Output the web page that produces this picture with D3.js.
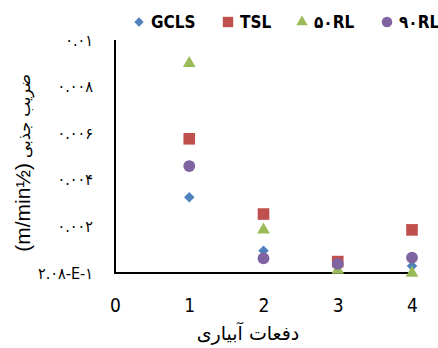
<!DOCTYPE html>
<html>
<head>
<meta charset="utf-8">
<script src="https://cdn.jsdelivr.net/npm/d3@7"></script>
<style>
  body { margin: 0; background: #fff; }
  text { font-family: "Liberation Sans Narrow", "Arial Narrow", "DejaVu Sans Condensed", sans-serif; }
</style>
</head>
<body>
<svg class="chart" width="438" height="348"></svg>
<script>
// irrigation rounds
const rounds = [1, 2, 3, 4];

// series values
const gcls = [0.00325, 0.00096, 0.0003, 0.0003];
const tsl = [0.00576, 0.00253, 0.00049, 0.00185];
const rl50 = [0.0090, 0.00185, 0.00013, 0.0];
const rl90 = [0.00459, 0.00063, 0.00039, 0.00066];

const seriesNames = ["GCLS", "TSL", "۵۰RL", "۹۰RL"];
const seriesColors = ["#4F81BD", "#C0504D", "#9BBB59", "#8064A2"];
const seriesSymbols = [d3.symbolDiamond2, d3.symbolSquare, d3.symbolTriangle, d3.symbolCircle];

const xTicks = [0, 1, 2, 3, 4];
const yTicks = [0, 0.002, 0.004, 0.006, 0.008, 0.01];
const yTickLabels = ["۲.۰۸-E-۱", "۰.۰۰۲", "۰.۰۰۴", "۰.۰۰۶", "۰.۰۰۸", "۰.۰۱"];

const xTitle = "دفعات آبیاری";
const yTitleUnit = "(m/min½)";
const yTitleText = "ضریب جذبی";

const plotLeft = 115, plotRight = 412, plotTop = 40, plotBottom = 273;

var svg = d3.select(".chart");

const xScale = d3.scaleLinear().domain([0, 4]).range([plotLeft, plotRight]);
const yScale = d3.scaleLinear().domain([0, 0.01]).range([plotBottom, plotTop]);

// y axis labels (no tick marks)
svg.append("g")
  .attr("transform", `translate(${plotLeft}, 0)`)
  .call(d3.axisLeft(yScale).tickValues(yTicks).tickSize(0).tickPadding(22)
    .tickFormat((d, i) => yTickLabels[i]))
  .call(g => g.select(".domain").remove())
  .selectAll("text")
  .style("font-family", "'DejaVu Sans Condensed', 'DejaVu Sans', sans-serif")
  .style("font-size", "16px")
  .attr("fill", "#000");

// x axis labels
svg.append("g")
  .attr("transform", `translate(0, ${plotBottom})`)
  .call(d3.axisBottom(xScale).tickValues(xTicks).tickSize(0).tickPadding(26)
    .tickFormat(d3.format("d")))
  .call(g => g.select(".domain").remove())
  .selectAll("text")
  .style("font-size", "19px")
  .attr("fill", "#000");

// axis lines
svg.append("line")
  .attr("x1", plotLeft).attr("x2", plotLeft)
  .attr("y1", plotTop).attr("y2", plotBottom)
  .attr("stroke", "#000").attr("stroke-width", 2);
svg.append("line")
  .attr("x1", plotLeft - 1).attr("x2", xScale(3.96))
  .attr("y1", plotBottom).attr("y2", plotBottom)
  .attr("stroke", "#000").attr("stroke-width", 2);

// points
const allSeries = [gcls, tsl, rl50, rl90];
const sizes = [70, 135, 70, 110];
allSeries.forEach((vals, k) => {
  svg.append("g")
    .selectAll("path")
    .data(vals)
    .enter()
    .append("path")
    .attr("transform", (d, i) => `translate(${xScale(rounds[i])}, ${yScale(d)})`)
    .attr("d", d3.symbol().type(seriesSymbols[k]).size(sizes[k]))
    .attr("fill", seriesColors[k]);
});

// legend
const legendX = [139, 228, 302, 387];
const legend = svg.append("g");
seriesNames.forEach((name, k) => {
  legend.append("path")
    .attr("transform", `translate(${legendX[k]}, 22)`)
    .attr("d", d3.symbol().type(seriesSymbols[k]).size(sizes[k] * 0.8))
    .attr("fill", seriesColors[k]);
  legend.append("text")
    .attr("x", legendX[k] + 12)
    .attr("y", 28)
    .style("font-size", "17px")
    .style("font-weight", "bold")
    .text(name);
});

// x title
svg.append("text")
  .attr("x", 248)
  .attr("y", 340)
  .attr("text-anchor", "middle")
  .style("font-family", "'DejaVu Sans', sans-serif")
  .style("font-size", "19px")
  .text(xTitle);

// y title
const yTitle = svg.append("text")
  .attr("transform", "rotate(-90)")
  .attr("x", -163)
  .attr("y", 30)
  .attr("text-anchor", "middle");
yTitle.append("tspan")
  .style("font-family", "'Liberation Sans', sans-serif")
  .style("font-size", "21px")
  .text(yTitleUnit);
yTitle.append("tspan")
  .style("font-family", "'DejaVu Sans', sans-serif")
  .style("font-size", "16px")
  .text(" " + yTitleText);
</script>
</body>
</html>
